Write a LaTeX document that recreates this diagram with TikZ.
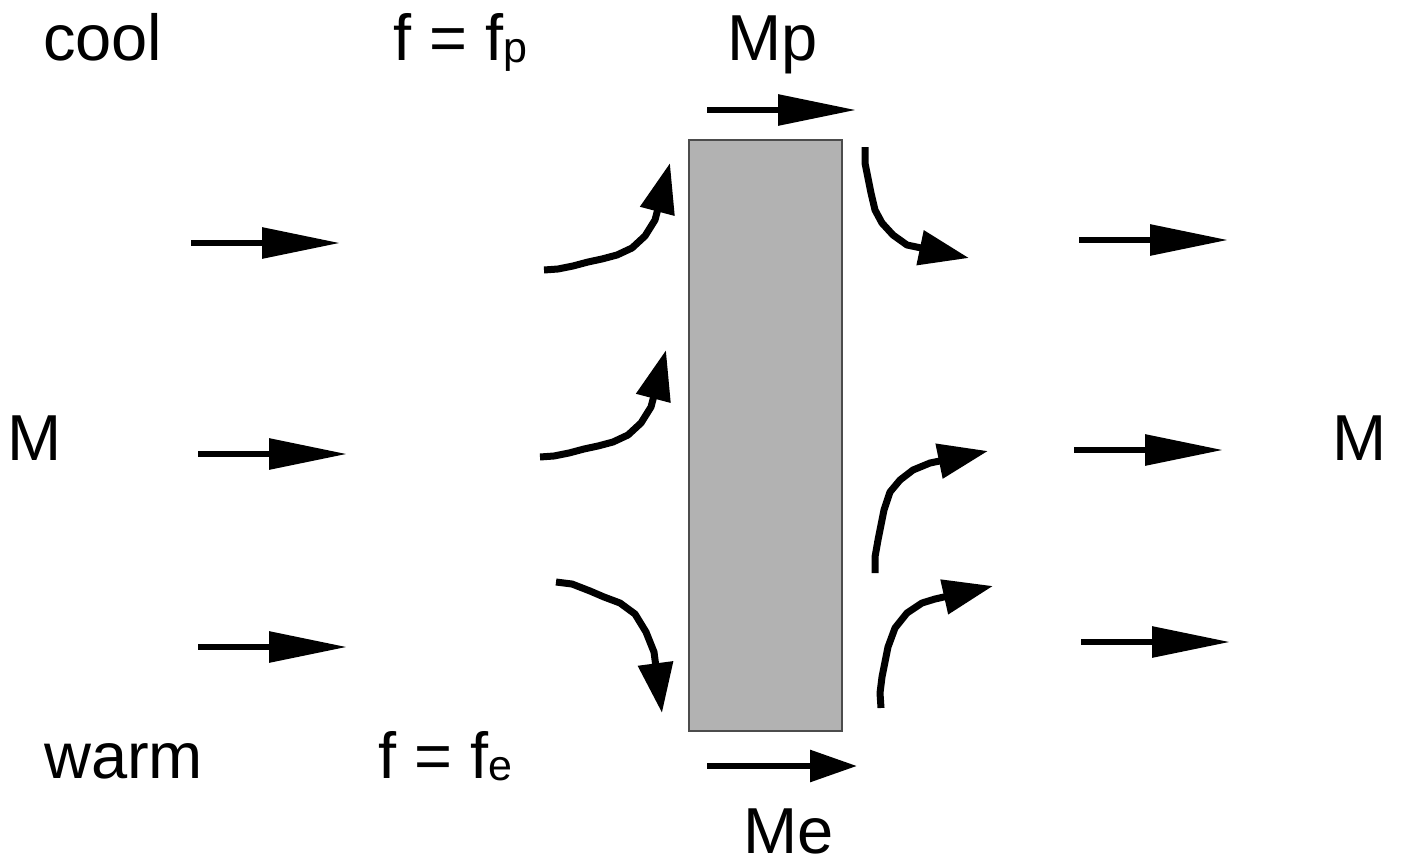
\documentclass[tikz,border=0pt]{standalone}
\usepackage{fontspec}
\setmainfont{Liberation Sans}
\usetikzlibrary{arrows.meta}
\usetikzlibrary{positioning}
\newcommand\lowsub[1]{\raisebox{-2pt}{\fontsize{43}{45}\selectfont #1}}
\tikzset{
    x=1pt, y=-1pt,
    label text/.style={
        inner sep=0pt,
        anchor=base west,
        font=\fontsize{65}{70}\selectfont
    },
    flow/.style={
        line width=6pt,
        -{Triangle[length=78pt,width=30pt]}
    },
    short flow/.style={
        line width=6pt,
        -{Triangle[length=47pt,width=31pt]}
    },
    curl/.style={
        line width=7pt,
        line join=round,
        -{Triangle[length=50pt,width=34pt]}
    },
    slab/.style={
        draw=black!70,
        line width=1.2pt,
        fill=black!30,
        inner sep=0pt,
        minimum width=153pt,
        minimum height=591pt
    }
}
\begin{document}
\begin{tikzpicture}
    \useasboundingbox (0,0) rectangle (1403,867);

    % texts
    \node[label text] (cool) at (43,60) {cool};
    \node[label text] (fp) at (393,60) {f = f\lowsub{p}};
    \node[label text] (mp) at (727,60) {Mp};
    \node[label text] (min) at (7,460) {M};
    \node[label text] (mout) at (1332,460) {M};
    \node[label text] (warm) at (44,778) {warm};
    \node[label text] (fe) at (378,778) {f = f\lowsub{e}};
    \node[label text] (me) at (743,853) {Me};

    % the slab
    \node[slab] (plate) at (765.5,435.5) {};

    % straight flow
    \foreach \xa/\ya in {191/243, 198/454, 198/647, 1079/240, 1074/450, 1081/642}
        \draw[flow] (\xa,\ya) -- ++(149,0);
    \draw[flow] (707,110) -- (856,110);
    \draw[short flow] (707,766) -- (857,766);

    % bent flow, left side
    \draw[curl] (544,270) -- (558,269) -- (573,266) -- (588,262) -- (602,259) -- (617,255)
        -- (632,248) -- (645,236) -- (655,220) -- (670,163);
    \draw[curl] (540,457) -- (554,456) -- (569,453) -- (584,449) -- (598,446) -- (613,442)
        -- (628,435) -- (641,423) -- (651,407) -- (666,350);
    \draw[curl] (556,582) -- (572,584) -- (590,591) -- (604,597) -- (620,603) -- (635,614)
        -- (646,632) -- (654,652) -- (662,713);

    % bent flow, right side
    \draw[curl] (865,147) -- (865,163) -- (868,178) -- (871,193) -- (875,210) -- (882,223)
        -- (893,235) -- (907,245) -- (969,258);
    \draw[curl] (875,573) -- (875,557) -- (878,540) -- (884,510) -- (890,492) -- (900,480)
        -- (913,470) -- (930,463) -- (988,451);
    \draw[curl] (881,708) -- (880,693) -- (882,677) -- (888,647) -- (895,628) -- (907,613)
        -- (922,603) -- (935,599) -- (993,586);
\end{tikzpicture}
\end{document}
